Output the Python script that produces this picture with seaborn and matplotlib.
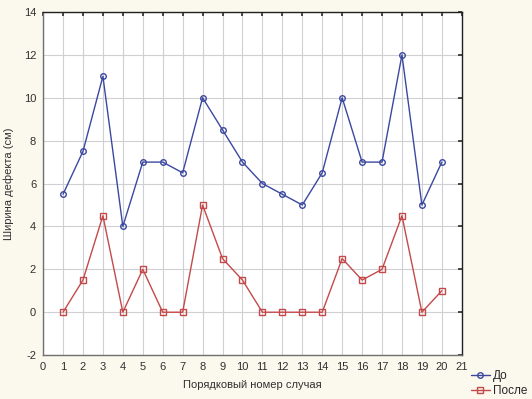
import numpy as np
import pandas as pd
import seaborn as sns
import matplotlib
matplotlib.use("Agg")
import matplotlib.pyplot as plt
from matplotlib.lines import Line2D

cases = list(range(1, 21))
before = [5.5, 7.5, 11, 4, 7, 7, 6.5, 10, 8.5, 7, 6, 5.5, 5, 6.5, 10, 7, 7, 12, 5, 7]
after = [0, 1.5, 4.5, 0, 2, 0, 0, 5, 2.5, 1.5, 0, 0, 0, 0, 2.5, 1.5, 2, 4.5, 0, 1]
series_names = ["До", "После"]
x_ticks = list(range(0, 22))
y_ticks = list(range(-2, 15, 2))

df = pd.DataFrame({
    "case": cases * 2,
    "value": before + after,
    "series": [series_names[0]] * len(cases) + [series_names[1]] * len(cases),
})

sns.set_theme(style="white")
plt.rcParams["font.family"] = ["Liberation Sans", "DejaVu Sans"]
plt.rcParams["axes.unicode_minus"] = False

bg = "#fbf8ee"
fig = plt.figure(figsize=(5.32, 3.99), dpi=100, facecolor=bg)
ax = fig.add_axes([0.081, 0.110, 0.787, 0.860])
ax.set_facecolor("white")

palette = {"До": "#3b48a0", "После": "#c44a4a"}
sns.lineplot(data=df, x="case", y="value", hue="series", style="series",
             markers={"До": "o", "После": "s"}, dashes=False,
             palette=palette, ax=ax, linewidth=1.0, markersize=4,
             markerfacecolor="none", markeredgewidth=1.0, legend=False)
for line, name in zip(ax.lines, series_names):
    line.set_markeredgecolor(palette[name])
    line.set_markerfacecolor("none")

ax.set_xlim(0, 21)
ax.set_ylim(-2, 14)
ax.set_xticks(x_ticks)
ax.set_yticks(y_ticks)
ax.grid(True, color="#d0d0d4", linewidth=0.8)
ax.set_axisbelow(True)
for side in ["left", "right", "top", "bottom"]:
    ax.spines[side].set_visible(True)
    ax.spines[side].set_color("#202020")
    ax.spines[side].set_linewidth(1.0)
ax.spines["bottom"].set_color("#707070")
ax.spines["left"].set_color("#707070")
ax.tick_params(axis="both", labelsize=8, colors="#303030", length=3,
               direction="in", top=True, right=True, bottom=False, left=False,
               pad=5)
ax.set_xlabel("Порядковый номер случая", fontsize=8, color="#303030", labelpad=6)
ax.set_ylabel("Ширина дефекта (см)", fontsize=8, color="#303030", labelpad=7)

handles = [Line2D([], [], color=palette[n], marker=m, markersize=4,
                  markerfacecolor="none", linewidth=1.0)
           for n, m in zip(series_names, ["o", "s"])]
fig.legend(handles, series_names, loc="upper left", bbox_to_anchor=(0.885, 0.072),
           frameon=False, fontsize=8.5, handlelength=1.6, handletextpad=0.3,
           labelspacing=0.2, borderaxespad=0, borderpad=0)

fig.savefig("out.png", dpi=100, facecolor=bg)
